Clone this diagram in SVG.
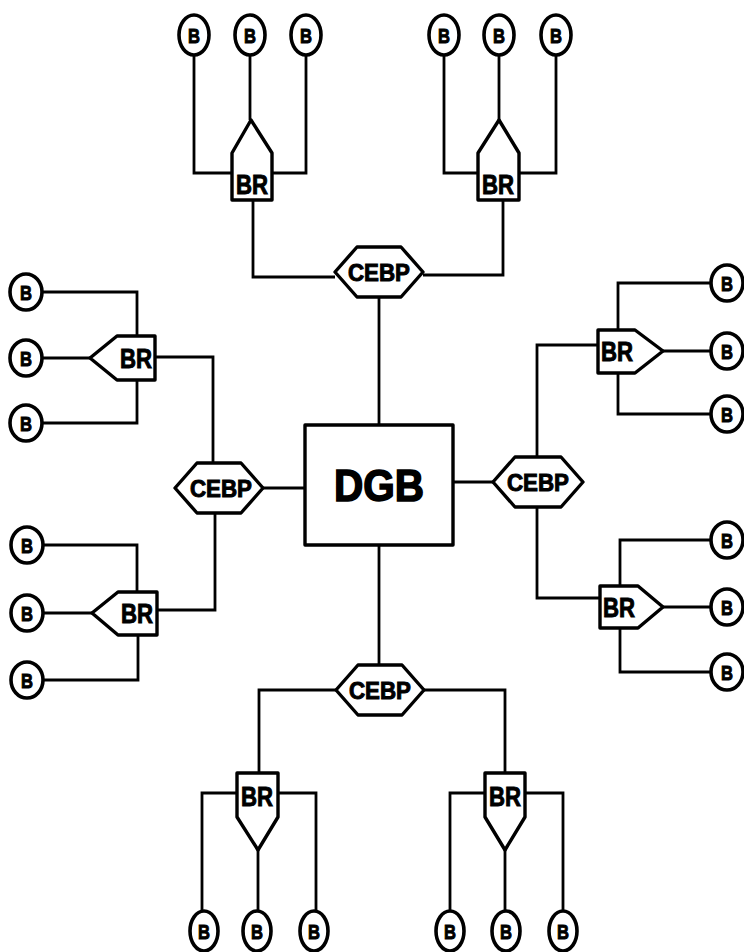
<svg xmlns="http://www.w3.org/2000/svg" width="744" height="952" viewBox="0 0 744 952">
<style>
.ln{fill:none;stroke:#000;stroke-width:2.8;stroke-linejoin:miter}
.nd{fill:#fff;stroke:#000;stroke-width:3.4;stroke-linejoin:round}
.bo{fill:#fff;stroke:#000;stroke-width:3.6}
.t{font-family:"Liberation Sans",Arial,sans-serif;font-weight:bold;fill:#000;stroke:#000;stroke-width:1;text-anchor:middle}
.tb{font-size:21px}
.tr{font-size:27px}
.tc{font-size:24px}
.td{font-size:45px;stroke-width:1.6}
</style>
<rect width="744" height="952" fill="#fff"/>
<g id="connectors" class="ln">
<path d="M194,55 V173 H232"/><path d="M250,55 V120"/><path d="M306,55 V173 H272"/><path d="M253,200 V277 H335"/>
<path d="M444,55 V173 H478"/><path d="M499,55 V120"/><path d="M556,55 V173 H519"/><path d="M503,200 V275 H423"/>
<path d="M379,297 V425"/>
<path d="M43,292 H137 V336"/><path d="M43,358 H90"/><path d="M43,423 H137 V380"/><path d="M155,357 H213 V463"/>
<path d="M43,545 H137 V592"/><path d="M43,613 H92"/><path d="M43,680 H138 V635"/><path d="M157,610 H215 V513"/>
<path d="M263,488 H305"/>
<path d="M710,283 H618 V330"/><path d="M663,351 H710"/><path d="M710,414 H618 V373"/><path d="M598,345 H537 V457"/>
<path d="M710,540 H620 V586"/><path d="M663,607 H710"/><path d="M710,672 H620 V628"/><path d="M600,598 H537 V507"/>
<path d="M453,482 H493"/>
<path d="M379,545 V665"/><path d="M336,690 H259 V773"/><path d="M424,690 H505 V773"/>
<path d="M237,793 H202 V910"/><path d="M258,850 V910"/><path d="M278,793 H316 V910"/>
<path d="M485,793 H450 V910"/><path d="M505,850 V910"/><path d="M525,793 H563 V910"/>
</g>
<g id="DGB"><rect class="nd" x="305" y="425" width="148" height="120" stroke-width="3.8"/><text class="t td" x="379" y="501" textLength="90" lengthAdjust="spacingAndGlyphs">DGB</text></g>
<g id="CEBP-top"><polygon class="nd" points="335,272 357,247 401,247 423,272 401,297 357,297"/><text class="t tc" x="379" y="281" textLength="62" lengthAdjust="spacingAndGlyphs">CEBP</text></g>
<g id="CEBP-left"><polygon class="nd" points="175,488 197,463 241,463 263,488 241,513 197,513"/><text class="t tc" x="221" y="497" textLength="62" lengthAdjust="spacingAndGlyphs">CEBP</text></g>
<g id="CEBP-right"><polygon class="nd" points="493,482 515,457 561,457 583,482 561,507 515,507"/><text class="t tc" x="538" y="491" textLength="62" lengthAdjust="spacingAndGlyphs">CEBP</text></g>
<g id="CEBP-bottom"><polygon class="nd" points="336,690 358,665 402,665 424,690 402,715 358,715"/><text class="t tc" x="380" y="699" textLength="62" lengthAdjust="spacingAndGlyphs">CEBP</text></g>
<g id="BR-top-left"><polygon class="nd" points="232,200 232,153 251,120 272,153 272,200"/><text class="t tr" x="252" y="194" textLength="32" lengthAdjust="spacingAndGlyphs">BR</text></g>
<g id="BR-top-right"><polygon class="nd" points="478,200 478,153 499,120 519,153 519,200"/><text class="t tr" x="498" y="194" textLength="32" lengthAdjust="spacingAndGlyphs">BR</text></g>
<g id="BR-left-upper"><polygon class="nd" points="155,336 117,336 90,358 117,380 155,380"/><text class="t tr" x="136" y="368" textLength="32" lengthAdjust="spacingAndGlyphs">BR</text></g>
<g id="BR-left-lower"><polygon class="nd" points="157,592 118,592 92,613 118,635 157,635"/><text class="t tr" x="137" y="623" textLength="32" lengthAdjust="spacingAndGlyphs">BR</text></g>
<g id="BR-right-upper"><polygon class="nd" points="598,330 635,330 663,351 635,373 598,373"/><text class="t tr" x="617" y="361" textLength="32" lengthAdjust="spacingAndGlyphs">BR</text></g>
<g id="BR-right-lower"><polygon class="nd" points="600,586 638,586 663,607 638,628 600,628"/><text class="t tr" x="619" y="617" textLength="32" lengthAdjust="spacingAndGlyphs">BR</text></g>
<g id="BR-bottom-left"><polygon class="nd" points="237,773 278,773 278,817 258,850 237,817"/><text class="t tr" x="257" y="806" textLength="32" lengthAdjust="spacingAndGlyphs">BR</text></g>
<g id="BR-bottom-right"><polygon class="nd" points="485,773 525,773 525,817 505,850 485,817"/><text class="t tr" x="505" y="806" textLength="32" lengthAdjust="spacingAndGlyphs">BR</text></g>
<g id="B-t1"><ellipse class="bo" cx="194" cy="35" rx="15" ry="20"/><text class="t tb" x="194" y="43" textLength="12" lengthAdjust="spacingAndGlyphs">B</text></g>
<g id="B-t2"><ellipse class="bo" cx="250" cy="35" rx="15" ry="20"/><text class="t tb" x="250" y="43" textLength="12" lengthAdjust="spacingAndGlyphs">B</text></g>
<g id="B-t3"><ellipse class="bo" cx="306" cy="35" rx="15" ry="20"/><text class="t tb" x="306" y="43" textLength="12" lengthAdjust="spacingAndGlyphs">B</text></g>
<g id="B-t4"><ellipse class="bo" cx="444" cy="35" rx="15" ry="20"/><text class="t tb" x="444" y="43" textLength="12" lengthAdjust="spacingAndGlyphs">B</text></g>
<g id="B-t5"><ellipse class="bo" cx="499" cy="35" rx="15" ry="20"/><text class="t tb" x="499" y="43" textLength="12" lengthAdjust="spacingAndGlyphs">B</text></g>
<g id="B-t6"><ellipse class="bo" cx="556" cy="35" rx="15" ry="20"/><text class="t tb" x="556" y="43" textLength="12" lengthAdjust="spacingAndGlyphs">B</text></g>
<g id="B-b1"><ellipse class="bo" cx="204" cy="931" rx="14" ry="20"/><text class="t tb" x="204" y="939" textLength="12" lengthAdjust="spacingAndGlyphs">B</text></g>
<g id="B-b2"><ellipse class="bo" cx="257" cy="931" rx="14" ry="20"/><text class="t tb" x="257" y="939" textLength="12" lengthAdjust="spacingAndGlyphs">B</text></g>
<g id="B-b3"><ellipse class="bo" cx="314" cy="931" rx="14" ry="20"/><text class="t tb" x="314" y="939" textLength="12" lengthAdjust="spacingAndGlyphs">B</text></g>
<g id="B-b4"><ellipse class="bo" cx="450" cy="931" rx="14" ry="20"/><text class="t tb" x="450" y="939" textLength="12" lengthAdjust="spacingAndGlyphs">B</text></g>
<g id="B-b5"><ellipse class="bo" cx="506" cy="931" rx="14" ry="20"/><text class="t tb" x="506" y="939" textLength="12" lengthAdjust="spacingAndGlyphs">B</text></g>
<g id="B-b6"><ellipse class="bo" cx="563" cy="931" rx="14" ry="20"/><text class="t tb" x="563" y="939" textLength="12" lengthAdjust="spacingAndGlyphs">B</text></g>
<g id="B-l1"><ellipse class="bo" cx="26" cy="292" rx="16" ry="18"/><text class="t tb" x="26" y="300" textLength="12" lengthAdjust="spacingAndGlyphs">B</text></g>
<g id="B-l2"><ellipse class="bo" cx="26" cy="358" rx="16" ry="18"/><text class="t tb" x="26" y="366" textLength="12" lengthAdjust="spacingAndGlyphs">B</text></g>
<g id="B-l3"><ellipse class="bo" cx="26" cy="423" rx="16" ry="18"/><text class="t tb" x="26" y="431" textLength="12" lengthAdjust="spacingAndGlyphs">B</text></g>
<g id="B-l4"><ellipse class="bo" cx="27" cy="545" rx="16" ry="18"/><text class="t tb" x="27" y="553" textLength="12" lengthAdjust="spacingAndGlyphs">B</text></g>
<g id="B-l5"><ellipse class="bo" cx="27" cy="613" rx="16" ry="18"/><text class="t tb" x="27" y="621" textLength="12" lengthAdjust="spacingAndGlyphs">B</text></g>
<g id="B-l6"><ellipse class="bo" cx="27" cy="680" rx="16" ry="18"/><text class="t tb" x="27" y="688" textLength="12" lengthAdjust="spacingAndGlyphs">B</text></g>
<g id="B-r1"><ellipse class="bo" cx="727" cy="283" rx="16" ry="18"/><text class="t tb" x="727" y="291" textLength="12" lengthAdjust="spacingAndGlyphs">B</text></g>
<g id="B-r2"><ellipse class="bo" cx="727" cy="351" rx="16" ry="18"/><text class="t tb" x="727" y="359" textLength="12" lengthAdjust="spacingAndGlyphs">B</text></g>
<g id="B-r3"><ellipse class="bo" cx="727" cy="414" rx="16" ry="18"/><text class="t tb" x="727" y="422" textLength="12" lengthAdjust="spacingAndGlyphs">B</text></g>
<g id="B-r4"><ellipse class="bo" cx="727" cy="540" rx="16" ry="18"/><text class="t tb" x="727" y="548" textLength="12" lengthAdjust="spacingAndGlyphs">B</text></g>
<g id="B-r5"><ellipse class="bo" cx="727" cy="607" rx="16" ry="18"/><text class="t tb" x="727" y="615" textLength="12" lengthAdjust="spacingAndGlyphs">B</text></g>
<g id="B-r6"><ellipse class="bo" cx="727" cy="672" rx="16" ry="18"/><text class="t tb" x="727" y="680" textLength="12" lengthAdjust="spacingAndGlyphs">B</text></g>
</svg>
